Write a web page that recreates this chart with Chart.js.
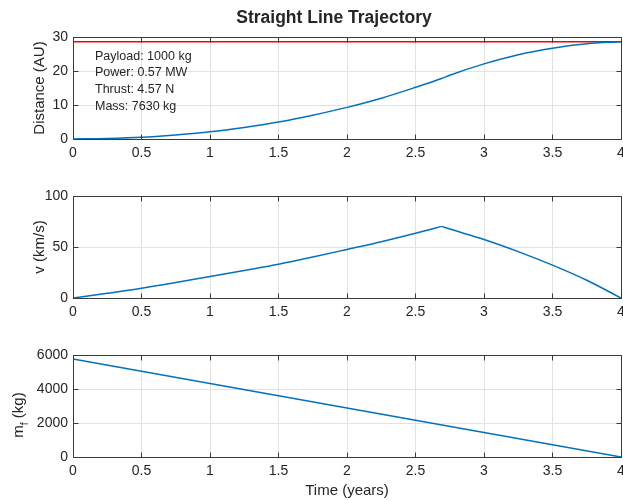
<!DOCTYPE html>
<html>
<head>
<meta charset="utf-8">
<script src="https://cdn.jsdelivr.net/npm/chart.js@4.4.1/dist/chart.umd.min.js"></script>
<style>
  html, body { margin: 0; padding: 0; background: #ffffff; overflow: hidden; }
  #figure { position: relative; width: 623px; height: 500px; }
  #figure canvas { position: absolute; left: 0; top: 0; }
</style>
</head>
<body>
<div id="figure">
  <canvas id="distChart" width="623" height="500"></canvas>
  <canvas id="velChart" width="623" height="500"></canvas>
  <canvas id="massChart" width="623" height="500"></canvas>
</div>
<script>
// ---- data ----
const timeYears   = [0, 0.25, 0.5, 0.75, 1, 1.25, 1.5, 1.75, 2, 2.25, 2.5, 2.69, 2.75, 3, 3.25, 3.5, 3.75, 4];
const distanceAU  = [0, 0.15, 0.5, 1.2, 2.1, 3.4, 5.0, 7.0, 9.3, 12.0, 15.2, 17.8, 18.75, 22.1, 24.8, 26.7, 28.0, 28.6];
const velocityKms = [0, 4.6, 9.5, 15.1, 21, 27, 33.1, 40.1, 47.6, 55.2, 63.5, 70.2, 67.6, 57.4, 45.5, 32.2, 17.4, 0];
const coastStartYears = 2.69;   // thrust reversal: end of acceleration phase
const massTimeYears = [0, 0.5, 1, 1.5, 2, 2.5, 3, 3.5, 4];
const fuelMassKg    = [5765, 5045, 4325, 3605, 2880, 2160, 1440, 720, 0];
const targetTimeYears  = [0, 4];
const targetDistanceAU = [28.6, 28.6];

const timeTicks = [0, 0.5, 1, 1.5, 2, 2.5, 3, 3.5, 4];
const distTicks = [0, 10, 20, 30];
const velTicks  = [0, 50, 100];
const massTicks = [0, 2000, 4000, 6000];

const missionNotes = ['Payload: 1000 kg', 'Power: 0.57 MW', 'Thrust: 4.57 N', 'Mass: 7630 kg'];
const figureTitle = 'Straight Line Trajectory';

// ---- styling ----
const FONT = '"Liberation Sans", Arial, Helvetica, sans-serif';
const INK = '#262626';
const FRAME = '#3a3a3a';
const GRID = '#e2e2e2';
const BLUE = '#0072BD';
const RED = '#FF0000';

Chart.defaults.font.family = FONT;
Chart.defaults.color = INK;

const toXY = (xs, ys) => xs.map((x, i) => ({ x: x, y: ys[i] }));

function align(px) { return Math.round(px - 0.5) + 0.5; }

// box around the axes with inward tick marks on all four sides
const axesFrame = {
  id: 'axesFrame',
  afterDatasetsDraw(chart) {
    const { ctx, chartArea: a, scales } = chart;
    const xs = scales.x, ys = scales.y;
    const L = align(a.left), R = align(a.right), T = align(a.top), B = align(a.bottom);
    const len = 5;
    ctx.save();
    ctx.strokeStyle = FRAME;
    ctx.lineWidth = 1;
    ctx.beginPath();
    ctx.rect(L, T, R - L, B - T);
    xs.ticks.forEach(t => {
      const p = align(xs.getPixelForValue(t.value));
      ctx.moveTo(p, B); ctx.lineTo(p, B - len);
      ctx.moveTo(p, T); ctx.lineTo(p, T + len);
    });
    ys.ticks.forEach(t => {
      const p = align(ys.getPixelForValue(t.value));
      ctx.moveTo(L, p); ctx.lineTo(L + len, p);
      ctx.moveTo(R, p); ctx.lineTo(R - len, p);
    });
    ctx.stroke();
    ctx.restore();
  }
};

// text drawn on a chart: rotated y label, optional title / notes / x label
function textLayer(spec) {
  return {
    id: 'textLayer',
    afterDraw(chart) {
      const ctx = chart.ctx;
      ctx.save();
      ctx.fillStyle = INK;
      if (spec.title) {
        ctx.font = 'bold 17.5px ' + FONT;
        ctx.textAlign = 'center';
        ctx.textBaseline = 'alphabetic';
        ctx.fillText(spec.title.text, spec.title.x, spec.title.y);
      }
      if (spec.notes) {
        ctx.font = '12.5px ' + FONT;
        ctx.textAlign = 'left';
        ctx.textBaseline = 'alphabetic';
        spec.notes.lines.forEach((s, i) => ctx.fillText(s, spec.notes.x, spec.notes.y + i * spec.notes.step));
      }
      if (spec.xLabel) {
        ctx.font = '15px ' + FONT;
        ctx.textAlign = 'center';
        ctx.textBaseline = 'alphabetic';
        ctx.fillText(spec.xLabel.text, spec.xLabel.x, spec.xLabel.y);
      }
      if (spec.yLabel) {
        // pieces: [text, size, baseline shift]
        const parts = spec.yLabel.parts;
        let total = 0;
        parts.forEach(p => { ctx.font = p[1] + 'px ' + FONT; total += ctx.measureText(p[0]).width; });
        ctx.translate(spec.yLabel.x, spec.yLabel.y);
        ctx.rotate(-Math.PI / 2);
        ctx.textAlign = 'left';
        ctx.textBaseline = 'alphabetic';
        let cx = -total / 2;
        parts.forEach(p => {
          ctx.font = p[1] + 'px ' + FONT;
          ctx.fillText(p[0], cx, p[2]);
          cx += ctx.measureText(p[0]).width;
        });
      }
      ctx.restore();
    }
  };
}

function setTicks(values) {
  return scale => { scale.ticks = values.map(v => ({ value: v })); };
}

function makeChart(id, datasets, yRange, yTicks, area, text) {
  const Y_W = 60, X_H = 40;
  return new Chart(document.getElementById(id), {
    type: 'scatter',
    data: { datasets: datasets },
    plugins: [axesFrame, textLayer(text)],
    options: {
      responsive: false,
      animation: false,
      devicePixelRatio: 1,
      events: [],
      layout: { padding: { left: area.left - Y_W, right: 623 - area.right, top: area.top, bottom: 500 - area.bottom - X_H } },
      plugins: { legend: { display: false }, title: { display: false }, tooltip: { enabled: false } },
      elements: { point: { radius: 0 } },
      scales: {
        x: {
          type: 'linear', min: 0, max: 4,
          afterBuildTicks: setTicks(timeTicks),
          afterFit: s => { s.height = X_H; s.paddingLeft = 0; s.paddingRight = 0; },
          grid: { color: GRID, lineWidth: 1, drawTicks: false },
          border: { display: false },
          ticks: { font: { size: 14 }, color: INK, padding: 6, maxRotation: 0, autoSkip: false, callback: v => String(v) }
        },
        y: {
          type: 'linear', min: yRange[0], max: yRange[1],
          afterBuildTicks: setTicks(yTicks),
          afterFit: s => { s.width = Y_W; s.paddingTop = 0; s.paddingBottom = 0; },
          grid: { color: GRID, lineWidth: 1, drawTicks: false },
          border: { display: false },
          ticks: { font: { size: 14 }, color: INK, padding: 5, autoSkip: false, callback: v => String(v) }
        }
      }
    }
  });
}

const lineStyle = (color, smooth) => ({
  showLine: true, borderColor: color, backgroundColor: color, borderWidth: 1.5,
  pointRadius: 0, fill: false, cubicInterpolationMode: smooth ? 'monotone' : 'default', tension: 0
});

// velocity is smooth within each thrust phase, with a sharp corner at the reversal
const peakIdx = timeYears.indexOf(coastStartYears);
const accelPhase = toXY(timeYears.slice(0, peakIdx + 1), velocityKms.slice(0, peakIdx + 1));
const decelPhase = toXY(timeYears.slice(peakIdx), velocityKms.slice(peakIdx));

makeChart('distChart', [
  Object.assign({ label: 'Distance', data: toXY(timeYears, distanceAU) }, lineStyle(BLUE, true)),
  Object.assign({ label: 'Target', data: toXY(targetTimeYears, targetDistanceAU) }, lineStyle(RED, false))
], [0, 30], distTicks, { left: 73, right: 621, top: 37, bottom: 139 }, {
  title: { text: figureTitle, x: 334, y: 23 },
  notes: { lines: missionNotes, x: 95, y: 59.5, step: 16.8 },
  yLabel: { x: 44, y: 88, parts: [['Distance (AU)', 15, 0]] }
});

makeChart('velChart', [
  Object.assign({ label: 'Velocity (accelerating)', data: accelPhase }, lineStyle(BLUE, true)),
  Object.assign({ label: 'Velocity (braking)', data: decelPhase }, lineStyle(BLUE, true))
], [0, 100], velTicks, { left: 73, right: 621, top: 196, bottom: 298 }, {
  yLabel: { x: 44, y: 247, parts: [['v (km/s)', 15, 0]] }
});

makeChart('massChart', [
  Object.assign({ label: 'Fuel mass', data: toXY(massTimeYears, fuelMassKg) }, lineStyle(BLUE, false))
], [0, 6000], massTicks, { left: 73, right: 621, top: 355, bottom: 457 }, {
  xLabel: { text: 'Time (years)', x: 347, y: 495 },
  yLabel: { x: 23, y: 415, parts: [['m', 15, 0], ['f', 10.5, 5], [' (kg)', 15, 0]] }
});
</script>
</body>
</html>
